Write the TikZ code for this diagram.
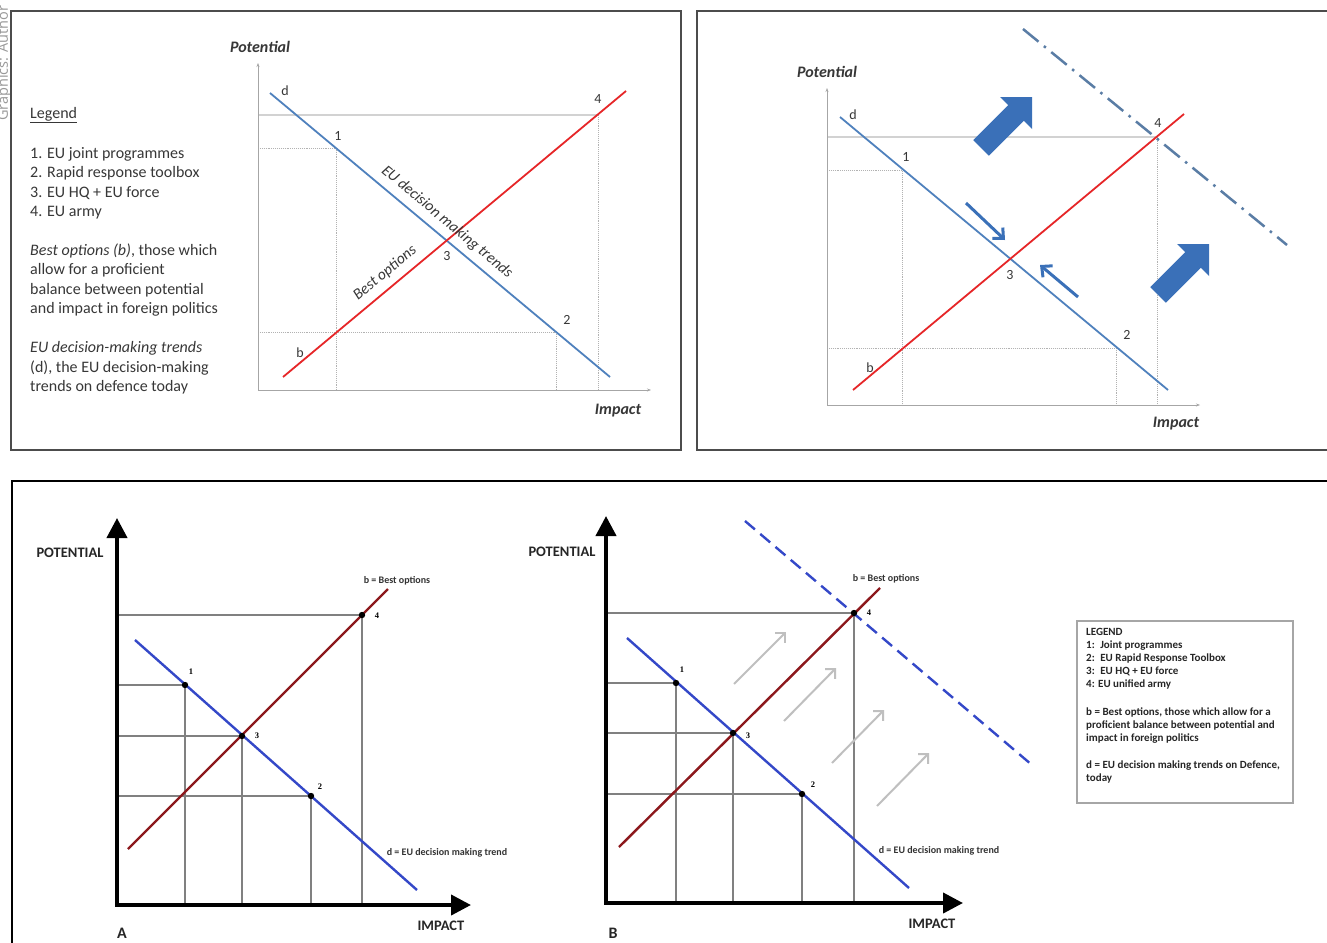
\documentclass[tikz,border=0pt]{standalone}
\usepackage{fontspec}
\setmainfont{Carlito}
\newfontfamily\osans{Open Sans}
\newfontfamily\tms{Liberation Serif}
\usetikzlibrary{arrows.meta}
\definecolor{blT}{RGB}{79,129,189}
\definecolor{rdT}{RGB}{230,38,40}
\definecolor{blB}{RGB}{52,72,200}
\definecolor{rdB}{RGB}{140,24,28}
\definecolor{blArrow}{RGB}{58,112,184}
\definecolor{dashC}{RGB}{90,125,165}
\definecolor{txtG}{RGB}{55,55,55}
\begin{document}
\begin{tikzpicture}[x=1pt,y=-1pt,
  frame/.style={draw=black!70,line width=1.5pt},
  axT/.style={draw=gray!70,line width=0.9pt,-{Stealth[length=4pt,width=3pt]}},
  gridT/.style={draw=gray!60,line width=0.9pt,densely dotted},
  gridTs/.style={draw=gray!35,line width=1.6pt},
  bluT/.style={draw=blT,line width=1.8pt},
  redT/.style={draw=rdT,line width=1.8pt},
  lblT/.style={inner sep=0pt,text=txtG,font=\fontsize{14}{16}\selectfont},
  legT/.style={inner sep=0pt,anchor=base west,text=txtG,font=\fontsize{16}{18}\selectfont},
  axlab/.style={inner sep=0pt,text=txtG,font=\fontsize{16}{18}\selectfont\bfseries\itshape},
  axB/.style={draw=black,line width=4pt,line join=miter,{Triangle[length=20pt,width=20pt]}-{Triangle[length=20pt,width=20pt]}},
  gridB/.style={draw=black!50,line width=1.5pt},
  bluB/.style={draw=blB,line width=2.4pt},
  redB/.style={draw=rdB,line width=2.4pt},
  dotB/.style={fill=black},
  numB/.style={inner sep=0pt,font=\tms\fontsize{8.5}{9}\selectfont\bfseries},
  tinyB/.style={inner sep=0pt,font=\fontsize{10}{11}\selectfont\bfseries,text=black!80},
  capB/.style={inner sep=0pt,font=\fontsize{14.5}{16}\selectfont\bfseries,text=black!85},
  legB/.style={inner sep=0pt,anchor=base west,font=\fontsize{11}{12}\selectfont\bfseries,text=black!85},
  greyArr/.style={draw=gray!50,line width=2pt,-{Straight Barb[length=7pt,width=14pt]}},
  bluArr/.style={draw=blArrow,line width=3pt,-{Straight Barb[length=8pt,width=15pt]}},
  block/.style={fill=blArrow}
]
\useasboundingbox (0,0) rectangle (1327,942);
\clip (0,0) rectangle (1327,942);
\fill[white] (0,0) rectangle (1327,942);

% credit
\node[rotate=90,anchor=base west,inner sep=0pt,text=gray!80,font=\osans\fontsize{14.5}{16}\selectfont] (credit) at (8,121) {Graphics: Author};

% frames
\draw[frame] (11,11) rectangle (681,450);
\draw[frame] (697,11) rectangle (1340,450);
\draw[frame,draw=black] (12,481) rectangle (1340,960);

% ---------------- Panel 1 ----------------
\node[legT] (lg0) at (30,118) {\underline{Legend}};
\node[legT] (lg1) at (30,158) {1. EU joint programmes};
\node[legT] (lg2) at (30,177.5) {2. Rapid response toolbox};
\node[legT] (lg3) at (30,197) {3. EU HQ + EU force};
\node[legT] (lg4) at (30,216.5) {4. EU army};
\node[legT] (lg5) at (30,255) {\textit{Best options (b)}, those which};
\node[legT] (lg6) at (30,274.5) {allow for a proficient};
\node[legT] (lg7) at (30,294) {balance between potential};
\node[legT] (lg8) at (30,313.5) {and impact in foreign politics};
\node[legT] (lg9) at (30,352.5) {\textit{EU decision-making trends}};
\node[legT] (lg10) at (30,372) {(d), the EU decision-making};
\node[legT] (lg11) at (30,391.5) {trends on defence today};

\coordinate (o1) at (258,390);
\coordinate (y1) at (258,63);
\coordinate (x1) at (651,390);
\draw[gridTs] (258,115) -- (598,115);
\draw[gridT] (598,115) -- (598,390);
\draw[gridT] (258,148) -- (336,148) -- (336,390);
\draw[gridT] (258,332) -- (556,332) -- (556,390);
\draw[axT] (o1) -- (y1);
\draw[axT] (o1) -- (x1);
\draw[bluT] (270,93) -- (610,377);
\draw[redT] (283,377) -- (626,91);
\node[axlab] (pot1) at (260,47) {Potential};
\node[axlab] (imp1) at (618,411) {Impact};
\node[lblT] (d1) at (285,91) {d};
\node[lblT] (b1) at (300,353) {b};
\node[lblT] (n11) at (338,136) {1};
\node[lblT] (n12) at (567,320) {2};
\node[lblT] (n13) at (447,256) {3};
\node[lblT] (n14) at (598,99) {4};
\node[lblT,font=\fontsize{15.5}{17}\selectfont\itshape,rotate=-39.9] (eutr) at (447,222) {EU decision making trends};
\node[lblT,font=\fontsize{15.5}{17}\selectfont\itshape,rotate=39.8] (bopt) at (385,273) {Best options};

% ---------------- Panel 2 ----------------
\coordinate (o2) at (827,405);
\coordinate (y2) at (827,88);
\coordinate (x2) at (1200,405);
\draw[gridTs] (827,137) -- (1157,137);
\draw[gridT] (1157,137) -- (1157,405);
\draw[gridT] (827,170) -- (902,170) -- (902,405);
\draw[gridT] (827,348) -- (1116,348) -- (1116,405);
\draw[axT] (o2) -- (y2);
\draw[axT] (o2) -- (x2);
\draw[bluT] (840,117) -- (1168,390);
\draw[redT] (853,390) -- (1184,114);
\draw[draw=dashC,line width=2.5pt,dash pattern=on 20pt off 7pt on 2.5pt off 7pt] (1023,29) -- (1287,245);
\node[axlab] (pot2) at (827,72) {Potential};
\node[axlab] (imp2) at (1176,424) {Impact};
\node[lblT] (d2) at (853,115) {d};
\node[lblT] (b2) at (870,368) {b};
\node[lblT] (n21) at (906,157) {1};
\node[lblT] (n22) at (1127,335) {2};
\node[lblT] (n23) at (1010,275) {3};
\node[lblT] (n24) at (1158,123) {4};
% block arrows
\fill[block] (1032,97) -- (1032,129) -- (1023.8,120.8) -- (988.9,155.7) -- (973.3,140.1) -- (1008.2,105.2) -- (1000,97) -- cycle;
\begin{scope}[shift={(177,147)}]
\fill[block] (1032,97) -- (1032,129) -- (1023.8,120.8) -- (988.9,155.7) -- (973.3,140.1) -- (1008.2,105.2) -- (1000,97) -- cycle;
\end{scope}
\coordinate (sa1) at (966,203);
\coordinate (sa2) at (1005,240);
\coordinate (sb1) at (1078,297);
\coordinate (sb2) at (1040,265);
\draw[bluArr] (sa1) -- (sa2);
\draw[bluArr] (sb1) -- (sb2);

% ---------------- Bottom A ----------------
\draw[gridB] (117,615) -- (362,615) -- (362,905);
\draw[gridB] (117,685) -- (185,685) -- (185,905);
\draw[gridB] (117,736) -- (242,736) -- (242,905);
\draw[gridB] (117,796) -- (311,796) -- (311,905);
\draw[redB] (128,849) -- (388,589);
\draw[bluB] (135,640) -- (417,890);
\foreach \p in {(185,685),(242,736),(311,796),(362,615)} \fill[dotB] \p circle (3.2);
\draw[axB] (117,518) -- (117,905) -- (471,905);
\node[capB] (potA) at (70,553) {POTENTIAL};
\node[capB] (impA) at (441,926) {IMPACT};
\node[capB,font=\fontsize{16}{18}\selectfont\bfseries] (labA) at (122,933) {A};
\node[numB] (nA1) at (191,672) {1};
\node[numB] (nA3) at (257,736) {3};
\node[numB] (nA2) at (320,787) {2};
\node[numB] (nA4) at (377,616) {4};
\node[tinyB] (bA) at (397,581) {b = Best options};
\node[tinyB] (dA) at (447,853) {d = EU decision making trend};

% ---------------- Bottom B ----------------
\draw[gridB] (606,613) -- (854,613) -- (854,903);
\draw[gridB] (606,683) -- (676,683) -- (676,903);
\draw[gridB] (606,733) -- (733,733) -- (733,903);
\draw[gridB] (606,794) -- (802,794) -- (802,903);
\draw[greyArr] (734,684) -- (786,632);
\draw[greyArr] (784,721) -- (836,668);
\draw[greyArr] (832,763) -- (884,710);
\draw[greyArr] (877,806) -- (929,753);
\draw[redB] (619,847) -- (880,588);
\draw[bluB] (627,638) -- (909,888);
\draw[draw=blB,line width=2.4pt,dash pattern=on 13pt off 7pt] (745,521) -- (1032,765);
\foreach \p in {(676,683),(733,733),(802,794),(854,613)} \fill[dotB] \p circle (3.2);
\draw[axB] (606,516) -- (606,903) -- (963,903);
\node[capB] (potB) at (562,552) {POTENTIAL};
\node[capB] (impB) at (932,924) {IMPACT};
\node[capB,font=\fontsize{16}{18}\selectfont\bfseries] (labB) at (613,933) {B};
\node[numB] (nB1) at (682,670) {1};
\node[numB] (nB3) at (748,736) {3};
\node[numB] (nB2) at (813,785) {2};
\node[numB] (nB4) at (869,613) {4};
\node[tinyB] (bB) at (886,579) {b = Best options};
\node[tinyB] (dB) at (939,851) {d = EU decision making trend};

% legend box
\draw[draw=gray!70,line width=1.5pt] (1077,621) rectangle (1293,803);
\node[legB] (LB0) at (1086,635) {LEGEND};
\node[legB] (LB1) at (1086,648) {1:\enspace Joint programmes};
\node[legB] (LB2) at (1086,661) {2:\enspace EU Rapid Response Toolbox};
\node[legB] (LB3) at (1086,674) {3:\enspace EU HQ + EU force};
\node[legB] (LB4) at (1086,687) {4: EU unified army};
\node[legB] (LB5) at (1086,715) {b = Best options, those which allow for a};
\node[legB] (LB6) at (1086,728) {proficient balance between potential and};
\node[legB] (LB7) at (1086,741) {impact in foreign politics};
\node[legB] (LB8) at (1086,768) {d = EU decision making trends on Defence,};
\node[legB] (LB9) at (1086,781) {today};
\end{tikzpicture}
\end{document}
